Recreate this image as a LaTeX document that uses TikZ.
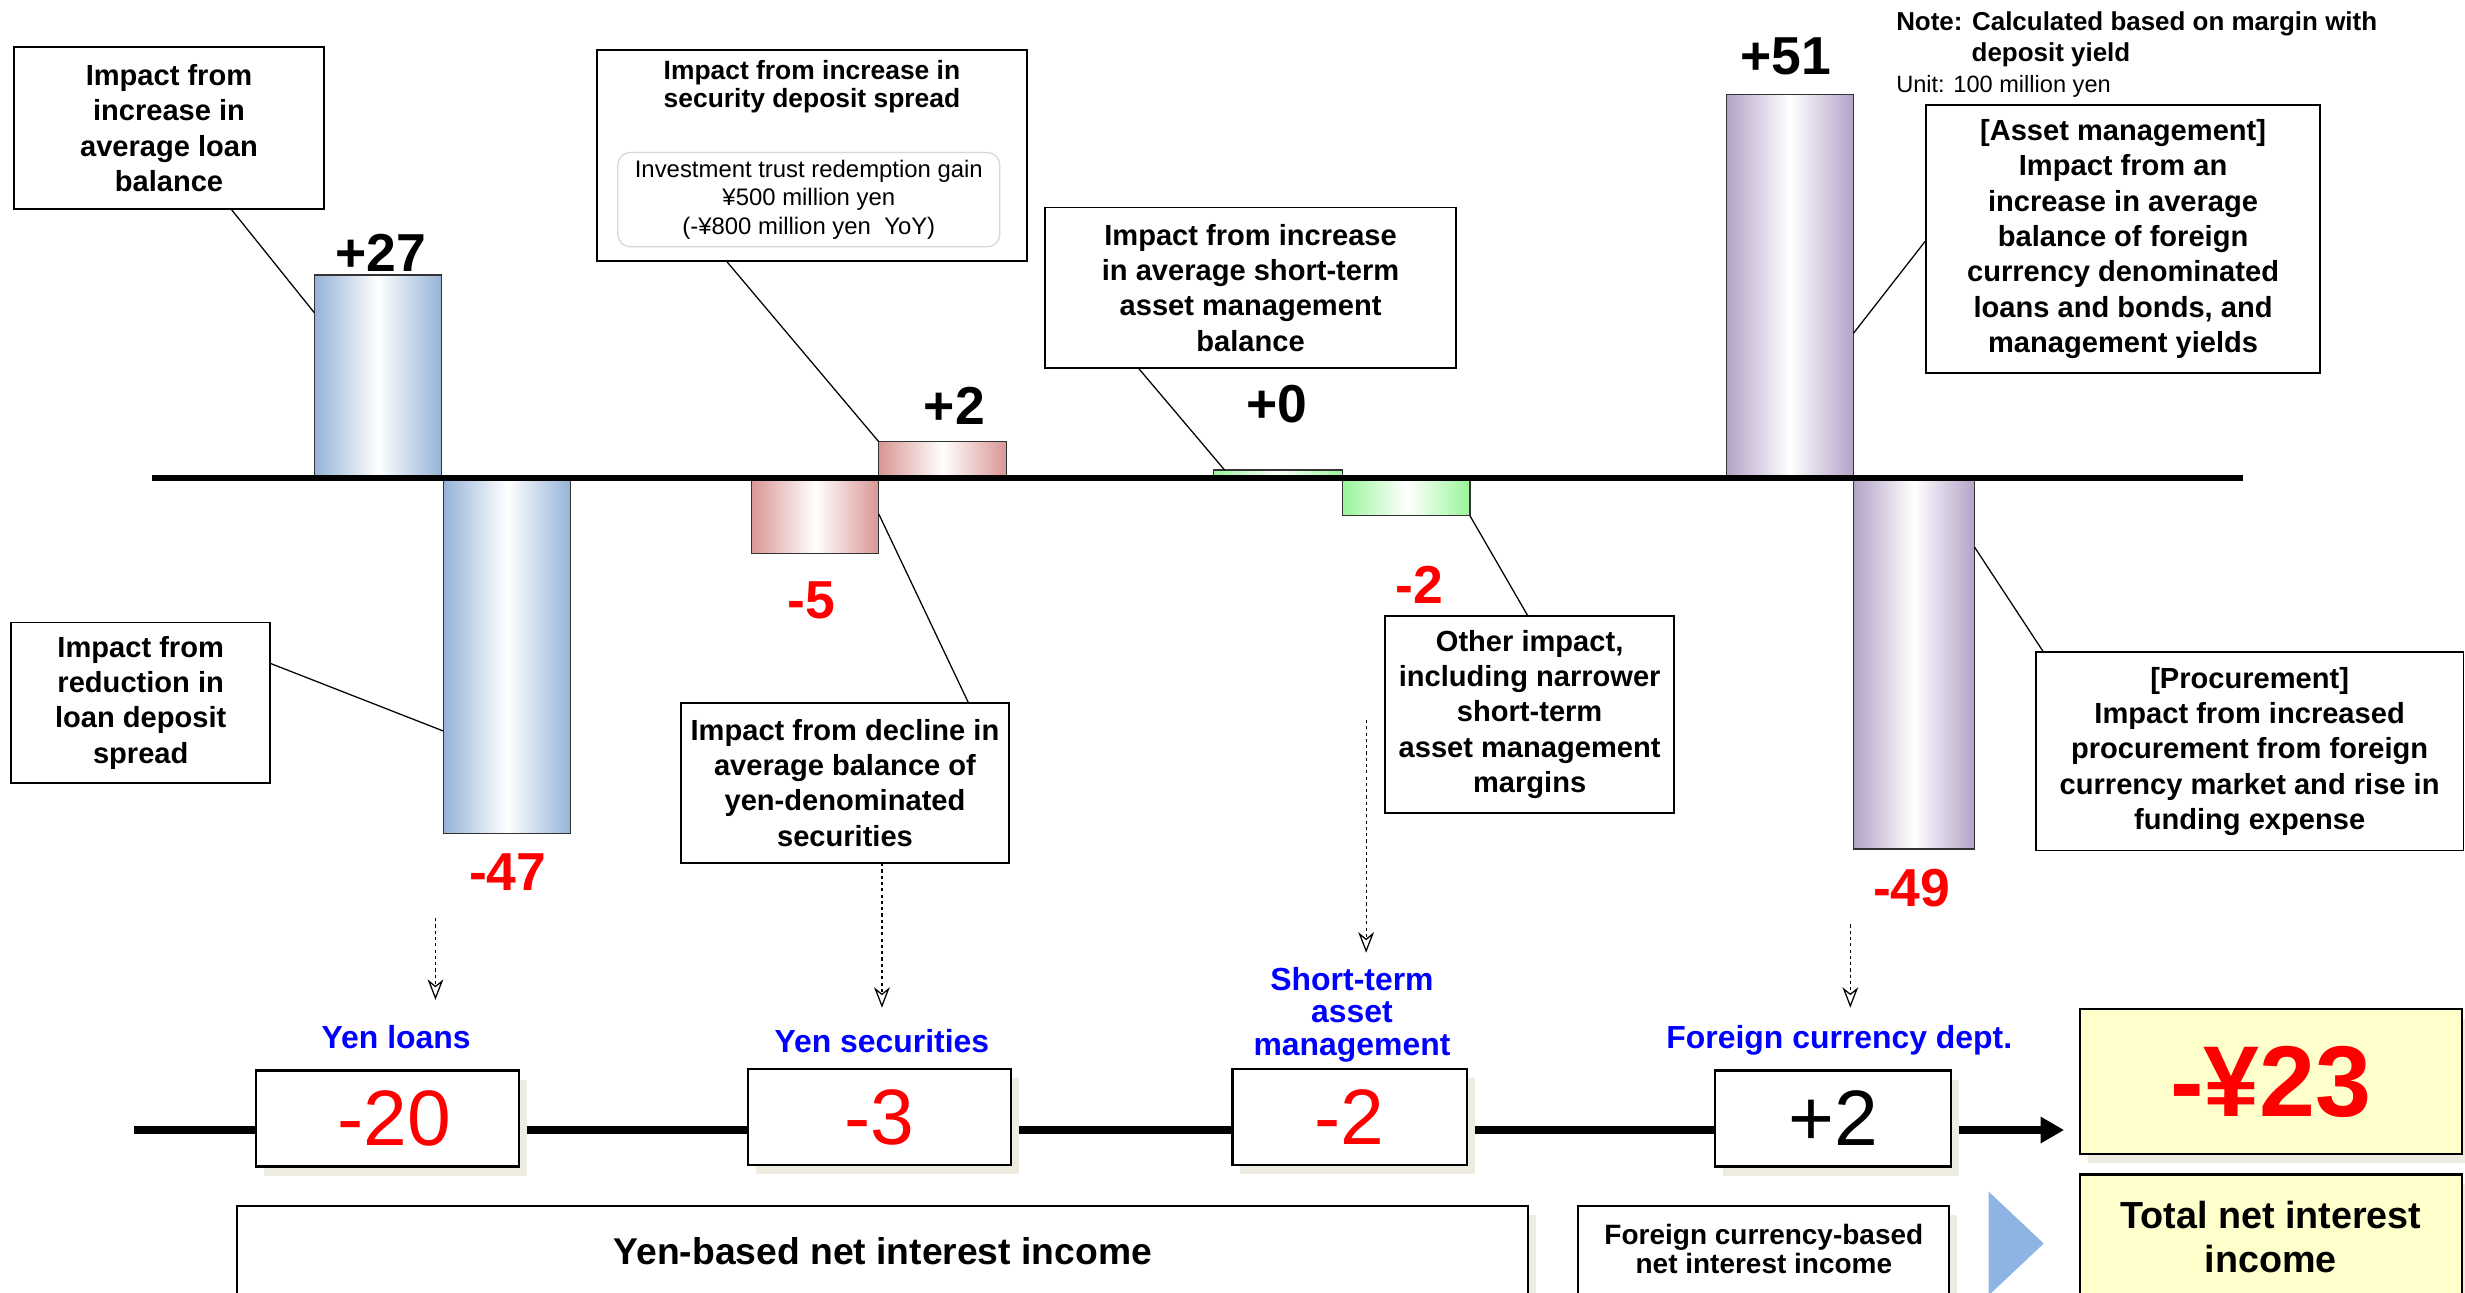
\documentclass[tikz,border=0pt]{standalone}
\usepackage{fontspec}
\setmainfont{Liberation Sans}
\usetikzlibrary{arrows.meta,calc,shadows}
\definecolor{barblue}{HTML}{95B3D7}
\definecolor{barpink}{HTML}{D99694}
\definecolor{bargreen}{HTML}{99F599}
\definecolor{barpurple}{HTML}{B3A2C7}
\definecolor{shbeige}{HTML}{EEECE1}
\definecolor{totyellow}{HTML}{FFFFCC}
\definecolor{triblue}{HTML}{8EB4E3}
\definecolor{labblue}{HTML}{0000FF}
\definecolor{valred}{HTML}{FF0000}
\newcommand\myfs[2]{\fontsize{#1}{#2}\selectfont}
\begin{document}
\begin{tikzpicture}[x=1pt,y=-1pt,
  bar/.style={draw=black!80, line width=0.8pt, inner sep=0pt, outer sep=0pt, shading=axis, middle color=white},
  bluebar/.style={bar, left color=barblue, right color=barblue, middle color=white},
  pinkbar/.style={bar, left color=barpink, right color=barpink, middle color=white},
  greenbar/.style={bar, left color=bargreen, right color=bargreen, middle color=white},
  purplebar/.style={bar, left color=barpurple, right color=barpurple, middle color=white},
  callbox/.style={draw, line width=1.2pt, fill=white, align=center, inner sep=0pt, outer sep=0pt,
     font=\bfseries\myfs{18.5}{22.5}},
  callout/.style={line width=0.8pt},
  posval/.style={font=\bfseries\myfs{34}{36}, text=black},
  negval/.style={font=\bfseries\myfs{34}{36}, text=valred},
  catlab/.style={font=\bfseries\myfs{20.3}{20.5}, text=labblue, align=center},
  valbox/.style={draw, line width=1.5pt, fill=white, inner sep=0pt, outer sep=0pt, minimum height=61pt,
     font=\myfs{50}{52}, drop shadow={shadow xshift=5pt, shadow yshift=-6pt, fill=shbeige, opacity=1}},
  dotarrow/.style={line width=0.8pt, dash pattern=on 2pt off 2pt, -{Stealth[open, length=13pt, width=10pt, inset=4pt]}},
  bottombox/.style={draw, line width=1.2pt, fill=white, inner sep=0pt, outer sep=0pt, align=center,
     drop shadow={shadow xshift=5pt, shadow yshift=-6pt, fill=shbeige, opacity=1}}
]
\useasboundingbox (0,0) rectangle (1568,822);
\fill[white] (0,0) rectangle (1568,822);

% ---- bars ----
\node[bluebar, minimum width=81pt, minimum height=129pt] (b1) at (240.5,239.5) {};
\node[bluebar, minimum width=81pt, minimum height=226pt] (b2) at (322.5,417) {};
\node[pinkbar, minimum width=81pt, minimum height=48pt] (b3) at (518.5,328) {};
\node[pinkbar, minimum width=81pt, minimum height=23pt] (b4) at (599.5,292.5) {};
\node[greenbar, minimum width=82pt, minimum height=5pt] (b5) at (813,301.5) {};
\node[greenbar, minimum width=81pt, minimum height=24pt] (b6) at (894.5,316) {};
\node[purplebar, minimum width=81pt, minimum height=244pt] (b7) at (1138.5,182) {};
\node[purplebar, minimum width=77pt, minimum height=236pt] (b8) at (1217.5,422) {};

% ---- axis ----
\coordinate (axL) at (97,304);
\coordinate (axR) at (1427,304);
\draw[line width=3.6pt] (axL) -- (axR);

% ---- bar values ----
\node[posval] (v27) at (242,161) {+27};
\node[negval] (v47) at (323,555) {-47};
\node[negval] (v5) at (516,382) {-5};
\node[posval] (v2p) at (607,258) {+2};
\node[posval] (v0) at (812,257) {+0};
\node[negval] (v2n) at (903,372) {-2};
\node[posval] (v51) at (1136,36) {+51};
\node[negval] (v49) at (1216,565) {-49};

% ---- note ----
\node[anchor=west, inner sep=0pt, font=\bfseries\myfs{16.5}{18}] (note1) at (1206,15) {Note: Calculated based on margin with};
\node[anchor=west, inner sep=0pt, font=\bfseries\myfs{16.5}{18}] (note2) at (1254,35) {deposit yield};
\node[anchor=west, inner sep=0pt, font=\myfs{15}{16}] (unit) at (1206,55) {Unit: 100 million yen};

% ---- callout boxes ----
\node[callbox, minimum width=197pt, minimum height=103pt] (k1) at (107.5,81.5)
  {Impact from\\increase in\\average loan\\balance};
\node[callbox, minimum width=273pt, minimum height=134pt] (k2) at (516.5,99) {};
\node[align=center, inner sep=0pt, font=\bfseries\myfs{16.8}{17.5}] (k2t) at (516.5,55)
  {Impact from increase in\\security deposit spread};
\node[draw=shbeige!80!black!60, line width=0.8pt, rounded corners=8pt, minimum width=243pt, minimum height=60pt,
  inner sep=0pt, align=center, font=\myfs{15.2}{18}] (k2i) at (514.5,127)
  {Investment trust redemption gain\\¥500 million yen\\(-¥800 million yen\ \ YoY)};
\node[callbox, minimum width=261pt, minimum height=102pt] (k3) at (795.5,183)
  {Impact from increase\\in average short-term\\asset management\\balance};
\node[callbox, minimum width=251pt, minimum height=170pt] (k4) at (1350.5,152)
  {[Asset management]\\Impact from an\\increase in average\\balance of foreign\\currency denominated\\loans and bonds, and\\management yields};
\node[callbox, minimum width=165pt, minimum height=102pt] (k5) at (89.5,447)
  {Impact from\\reduction in\\loan deposit\\spread};
\node[callbox, minimum width=209pt, minimum height=102pt] (k6) at (537.5,498)
  {Impact from decline in\\average balance of\\yen-denominated\\securities};
\node[callbox, minimum width=184pt, minimum height=125pt] (k7) at (973,454.5)
  {Other impact,\\including narrower\\short-term\\asset management\\margins};
\node[callbox, minimum width=272pt, minimum height=126pt] (k8) at (1431,478)
  {[Procurement]\\Impact from increased\\procurement from foreign\\currency market and rise in\\funding expense};

% ---- callout lines ----
\coordinate (c1) at (200,199);
\coordinate (c4) at (1179,212);
\coordinate (c5) at (282,465);
\coordinate (c6) at (559,327);
\coordinate (c8) at (1256,348);
\draw[callout] ([xshift=138pt]k1.south west) -- (c1);
\draw[callout] ([xshift=82pt]k2.south west) -- (b4.north west);
\draw[callout] ([xshift=59pt]k3.south west) -- ([xshift=7pt]b5.north west);
\draw[callout] ([yshift=-86pt]k4.north west) -- (c4);
\draw[callout] ([yshift=-26pt]k5.north east) -- (c5);
\draw[callout] ([xshift=183pt]k6.north west) -- (c6);
\draw[callout] ([xshift=91pt]k7.north west) -- (b6.south east);
\draw[callout] ([xshift=5pt]k8.north west) -- (c8);

% ---- dotted arrows ----
\coordinate (d1s) at (277,584); \coordinate (d1e) at (277,636);
\coordinate (d2e) at (561,641);
\coordinate (d3s) at (869,458); \coordinate (d3e) at (869,606);
\coordinate (d4s) at (1177,588); \coordinate (d4e) at (1177,641);
\draw[dotarrow] (d1s) -- (d1e);
\draw[dotarrow] ([xshift=128pt]k6.south west) -- (d2e);
\draw[dotarrow] (d3s) -- (d3e);
\draw[dotarrow] (d4s) -- (d4e);

% ---- category labels ----
\node[catlab] (l1) at (252,660) {Yen loans};
\node[catlab] (l2) at (561,662) {Yen securities};
\node[catlab] (l3) at (860,645.5) {Short-term\\asset\\management};
\node[catlab] (l4) at (1170,662) {Foreign currency dept.};

% ---- main line and value boxes ----
\coordinate (mlS) at (85,718.8);
\node[draw, line width=1.5pt, fill=totyellow, inner sep=0pt, outer sep=0pt, minimum width=243pt, minimum height=92pt,
  font=\bfseries\myfs{64}{66}, text=valred,
  drop shadow={shadow xshift=5pt, shadow yshift=-6pt, fill=shbeige, opacity=1}] (tot) at (1444.5,688) {-¥23};
\draw[line width=5.3pt, -{Triangle[length=15pt, width=16pt]}] (mlS) -- ([xshift=-10pt]tot.west |- mlS);
\node[valbox, minimum width=167pt, text=valred] (w1) at (246.5,711.5) {\,-20};
\node[valbox, minimum width=167pt, text=valred] (w2) at (559.5,710.5) {-3};
\node[valbox, minimum width=149pt, text=valred] (w3) at (858.5,710.5) {-2};
\node[valbox, minimum width=150pt, text=black] (w4) at (1166,711.5) {+2};

% ---- bottom boxes ----
\node[bottombox, minimum width=821pt, minimum height=60pt] (y1) at (561.5,797) {};
\node[inner sep=0pt, font=\bfseries\myfs{23.7}{26}] (y1t) at (561.5,796) {Yen-based net interest income};
\node[bottombox, minimum width=236pt, minimum height=60pt] (f1) at (1122,797) {};
\node[inner sep=0pt, align=center, font=\bfseries\myfs{17.8}{19}] (f1t) at (1122,794.5) {Foreign currency-based\\net interest income};
\fill[triblue] (1265,758) -- (1300,791) -- (1265,824) -- cycle;
\node[draw, line width=1.5pt, fill=totyellow, inner sep=0pt, outer sep=0pt, minimum width=243pt, minimum height=80pt,
  drop shadow={shadow xshift=5pt, shadow yshift=-6pt, fill=shbeige, opacity=1}] (tl) at (1444.5,787) {};
\node[inner sep=0pt, align=center, font=\bfseries\myfs{24}{28}] (tlt) at (1444.5,787) {Total net interest\\income};
\end{tikzpicture}
\end{document}
